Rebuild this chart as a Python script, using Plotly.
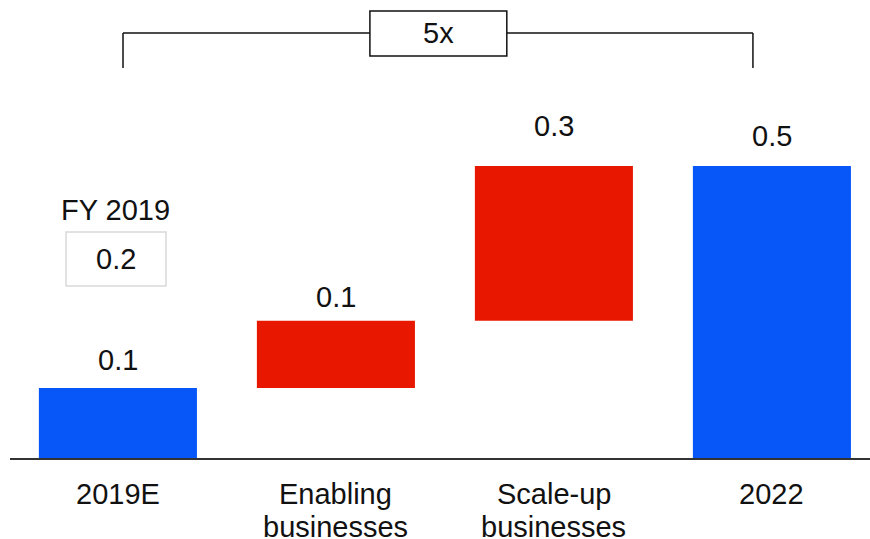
import plotly.graph_objects as go

categories = ["2019E", "Enabling<br>businesses", "Scale-up<br>businesses", "2022"]
measures = ["absolute", "relative", "relative", "total"]
values = [0.12, 0.115, 0.265, 0.5]
fy2019_value = 0.2
multiple_label = "5x"

BLUE = "#0656F8"
RED = "#E81800"
FONT = "Liberation Sans, Arial, sans-serif"
FS = 29

# compute bar tops
tops = []
run = 0.0
for m, v in zip(measures, values):
    if m == "absolute":
        run = v
    elif m == "relative":
        run += v
    tops.append(run)
labels = [f"{round(v, 1):.1f}" for v in values]
label_shift = [16, 12, 28, 18]

fig = go.Figure(go.Waterfall(
    x=list(range(len(categories))),
    measure=measures,
    y=values,
    width=0.725,
    increasing=dict(marker=dict(color=RED)),
    decreasing=dict(marker=dict(color=RED)),
    totals=dict(marker=dict(color=BLUE)),
    connector=dict(visible=False),
    hoverinfo="skip",
    textinfo="none",
))

for i, (t, lab) in enumerate(zip(tops, labels)):
    fig.add_annotation(x=i, y=t, text=lab, showarrow=False, yanchor="bottom",
                       yshift=label_shift[i] - 6, font=dict(size=FS, color="#111"))

# category labels (tight line spacing, drawn line by line)
for i, cat in enumerate(categories):
    for k, part in enumerate(cat.split("<br>")):
        fig.add_annotation(x=i, y=0, text=part, showarrow=False, yanchor="middle",
                           yshift=-(36 + 33 * k), font=dict(size=FS, color="#111"))

# bracket
yb_top = 0.7277
yb_bot = 0.6678
xl, xr = 0.0234, 2.913
bx0, bx1 = 1.156, 1.784
by0, by1 = 0.6884, 0.7654
line = dict(color="#111", width=1.5)
fig.add_shape(type="line", x0=xl, x1=xl, y0=yb_bot, y1=yb_top, line=line)
fig.add_shape(type="line", x0=xl, x1=bx0, y0=yb_top, y1=yb_top, line=line)
fig.add_shape(type="line", x0=bx1, x1=xr, y0=yb_top, y1=yb_top, line=line)
fig.add_shape(type="line", x0=xr, x1=xr, y0=yb_bot, y1=yb_top, line=line)
fig.add_shape(type="rect", x0=bx0, x1=bx1, y0=by0, y1=by1, line=line, fillcolor="white")
fig.add_annotation(x=(bx0 + bx1) / 2, y=(by0 + by1) / 2, text=multiple_label,
                   showarrow=False, font=dict(size=FS, color="#111"))

# FY 2019 box
fig.add_shape(type="rect", x0=-0.238, x1=0.2206, y0=0.2945, y1=0.387,
              line=dict(color="#d9d9d9", width=1.5), fillcolor="white")
fig.add_annotation(x=-0.0088, y=0.3408, text=f"{fy2019_value:.1f}", showarrow=False,
                   font=dict(size=FS, color="#111"))
fig.add_annotation(x=-0.0088, y=0.4247, text="FY 2019", showarrow=False,
                   font=dict(size=FS, color="#111"))

fig.update_layout(
    width=870, height=539,
    margin=dict(l=10, r=0, t=0, b=81),
    paper_bgcolor="white", plot_bgcolor="white",
    showlegend=False,
    font=dict(family=FONT, size=FS, color="#111"),
    xaxis=dict(range=[-0.495, 3.45], showticklabels=False,
               showline=True, linecolor="#333", linewidth=2, ticks="",
               automargin=False,
               showgrid=False, zeroline=False, fixedrange=True),
    yaxis=dict(range=[0, 458 / 584], visible=False, showgrid=False,
               zeroline=False, automargin=False),
)

fig.write_html("out.html", config={"displayModeBar": False},
               post_script="document.body.style.margin='0';document.body.style.overflow='hidden';")
